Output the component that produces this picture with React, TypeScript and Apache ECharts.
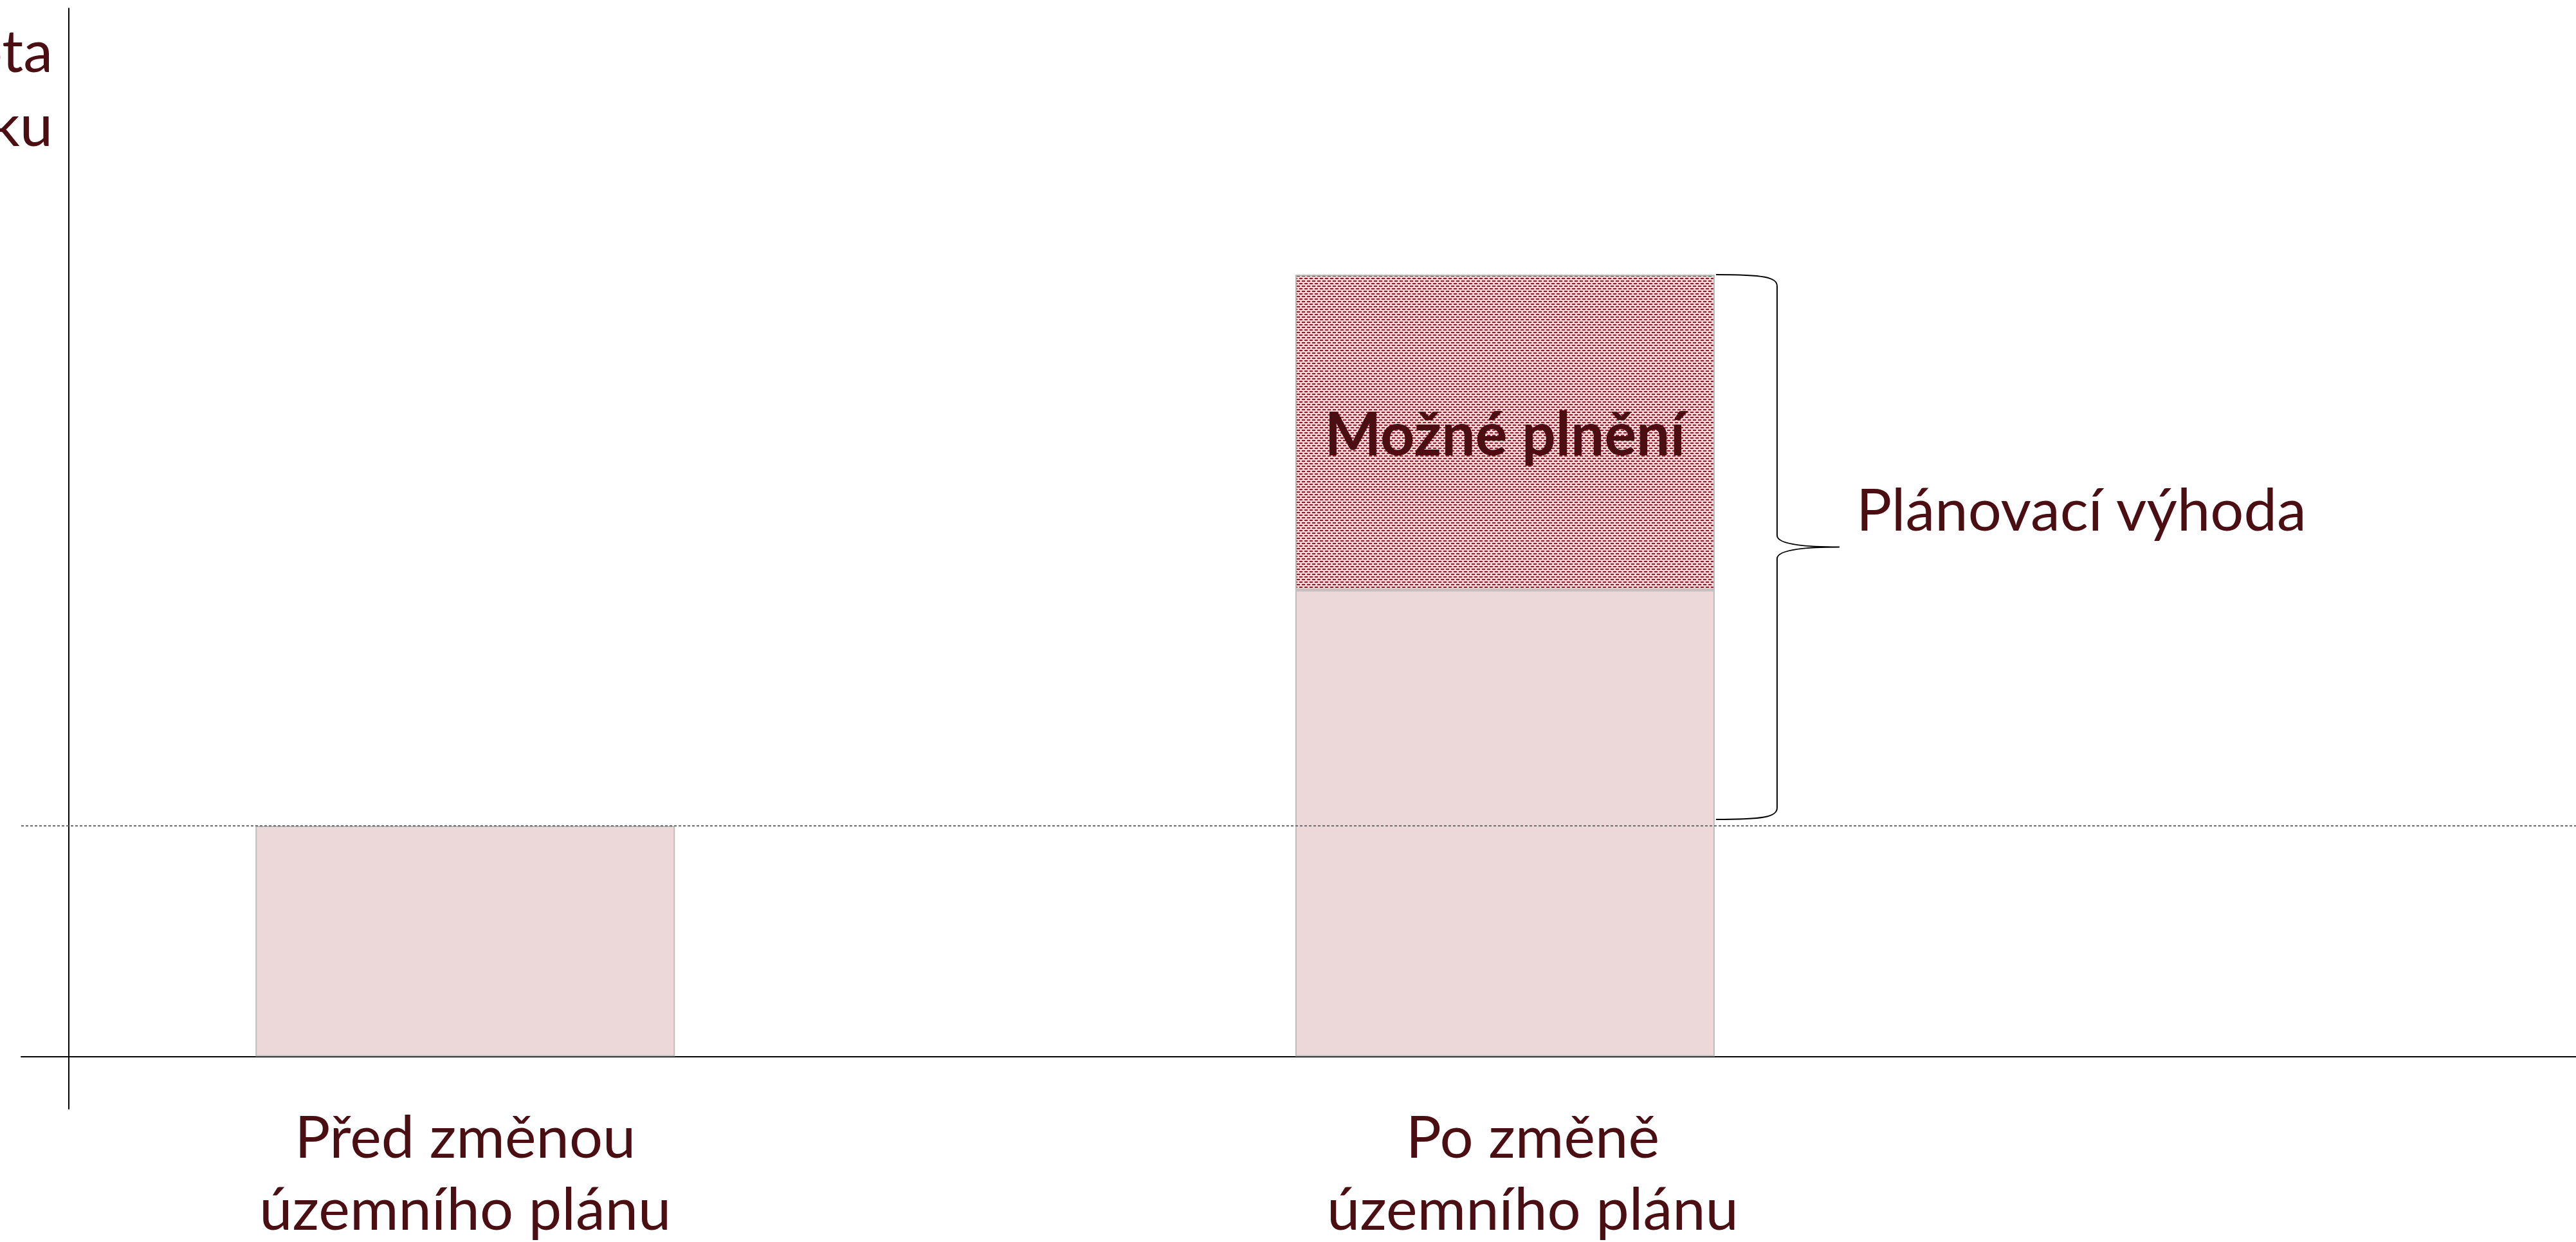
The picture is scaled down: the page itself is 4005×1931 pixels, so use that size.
import React, { useEffect, useRef } from "react";
import * as echarts from "echarts";

// ---- data ----
const CATEGORIES = ["Před změnou\núzemního plánu", "Po změně\núzemního plánu"];
const CAT_POS = [0, 1];
const BASE_VALUES = [22, 44.5];
const POTENTIAL_VALUES: (number | null)[] = [null, 30.1];
const Y_AXIS_NAME = "Hodnota\npozemku";
const BAR_LABEL = "Možné plnění";
const BRACE_LABEL = "Plánovací výhoda";
const Y_MIN = -5;
const Y_MAX = 100;
const X_MIN = -0.427;
const X_MAX = 2.03;

// ---- styles ----
const TEXT = "#4a0e13";
const FONT = "Lato, 'Noto Sans', sans-serif";
const BAR_FILL = "#ecd8d9";
const BAR_BORDER = "#bdbdbd";
const HATCH = "#8e1b2b";
const BAR_WIDTH = 652;
const LABEL_LEFT_PAD = [0, 86]; // visual nudge of each category label (px of left padding)

export default function App() {
  const ref = useRef<HTMLDivElement>(null);
  useEffect(() => {
    if (!ref.current) return;
    const chart = echarts.init(ref.current, undefined, { renderer: "svg" });
    // value first, position second (encode maps them), so stacking applies to the value dimension
    const baseData = CAT_POS.map((x, i) => [BASE_VALUES[i], x]);
    const potData = CAT_POS.map((x, i) => [POTENTIAL_VALUES[i] == null ? "-" : POTENTIAL_VALUES[i], x]);
    const braceData = [[CAT_POS[1], BASE_VALUES[0], BASE_VALUES[1] + (POTENTIAL_VALUES[1] as number)]];

    const labelStyle = { color: TEXT, fontFamily: FONT, fontSize: 92, lineHeight: 112 };
    const rich: Record<string, any> = {};
    CAT_POS.forEach((_, i) => {
      rich["c" + i] = { ...labelStyle, padding: [0, 0, 0, LABEL_LEFT_PAD[i]] };
    });

    chart.setOption({
      animation: false,
      backgroundColor: "#ffffff",
      grid: {
        left: 33,
        right: 0,
        top: 13,
        bottom: 207,
        containLabel: false,
        outerBoundsMode: "none",
      },
      xAxis: {
        type: "value",
        min: X_MIN,
        max: X_MAX,
        splitLine: { show: false },
        axisTick: { show: false },
        axisLine: { show: true, onZero: true, lineStyle: { color: "#000", width: 2 } },
        axisLabel: {
          customValues: CAT_POS,
          formatter: (v: number) => {
            const i = CAT_POS.indexOf(Math.round(v));
            if (i < 0) return "";
            return CATEGORIES[i]
              .split("\n")
              .map((line) => `{c${i}|${line}}`)
              .join("\n");
          },
          rich,
          ...labelStyle,
          margin: -16,
          align: "center",
        },
      },
      yAxis: {
        type: "value",
        min: Y_MIN,
        max: Y_MAX,
        offset: -74,
        splitLine: { show: false },
        axisTick: { show: false },
        axisLabel: { show: false },
        axisLine: { show: true, onZero: false, lineStyle: { color: "#000", width: 2 } },
        name: Y_AXIS_NAME,
        nameLocation: "end",
        nameGap: -6,
        nameTextStyle: {
          color: TEXT,
          fontFamily: FONT,
          fontSize: 92,
          lineHeight: 115,
          align: "right",
          verticalAlign: "top",
          padding: [0, 25, 0, 0],
        },
      },
      series: [
        {
          type: "bar",
          name: "base",
          stack: "total",
          barWidth: BAR_WIDTH,
          encode: { x: 1, y: 0 },
          data: baseData,
          itemStyle: { color: BAR_FILL, borderColor: BAR_BORDER, borderWidth: 2 },
          markLine: {
            silent: true,
            symbol: "none",
            label: { show: false },
            lineStyle: { type: [4, 3], color: "#6e6e6e", width: 2 },
            data: [{ yAxis: BASE_VALUES[0] }],
          },
        },
        {
          type: "bar",
          name: "potential",
          stack: "total",
          barWidth: BAR_WIDTH,
          encode: { x: 1, y: 0 },
          data: potData,
          itemStyle: {
            color: BAR_FILL,
            borderColor: BAR_BORDER,
            borderWidth: 2,
            decal: {
              symbol: "rect",
              symbolSize: 1,
              color: HATCH,
              backgroundColor: null,
              dashArrayX: [[5, 3], [1, 3, 4, 0]],
              dashArrayY: [2, 2],
            },
          },
          label: {
            show: true,
            position: "inside",
            formatter: BAR_LABEL,
            color: TEXT,
            fontFamily: FONT,
            fontWeight: "bold",
            fontSize: 93,
          },
        },
        {
          type: "custom",
          name: "brace",
          coordinateSystem: "cartesian2d",
          encode: { x: 0, y: [1, 2] },
          data: braceData,
          z: 5,
          renderItem: (params: any, api: any) => {
            const x = api.value(0);
            const lo = api.value(1);
            const hi = api.value(2);
            const pTop = api.coord([x, hi]);
            const pBot = api.coord([x, lo]);
            const x0 = pTop[0] + BAR_WIDTH / 2 + 2;
            const yT = pTop[1];
            const yB = pBot[1] - 10;
            const ym = (yT + yB) / 2;
            const xs = x0 + 95;
            const xt = x0 + 192;
            const d =
              `M ${x0} ${yT} C ${x0 + 75} ${yT} ${xs} ${yT + 4} ${xs} ${yT + 18} ` +
              `L ${xs} ${ym - 18} C ${xs} ${ym - 4} ${xs + 45} ${ym} ${xt} ${ym} ` +
              `M ${xt} ${ym} C ${xs + 45} ${ym} ${xs} ${ym + 4} ${xs} ${ym + 18} ` +
              `L ${xs} ${yB - 18} C ${xs} ${yB - 4} ${x0 + 75} ${yB} ${x0} ${yB}`;
            return {
              type: "group",
              children: [
                {
                  type: "path",
                  shape: { pathData: d },
                  style: { fill: "none", stroke: "#000", lineWidth: 2 },
                },
                {
                  type: "text",
                  x: xt + 26,
                  y: ym - 15,
                  style: {
                    text: BRACE_LABEL,
                    fill: TEXT,
                    fontFamily: FONT,
                    fontSize: 92,
                    align: "left",
                    verticalAlign: "bottom",
                  },
                },
              ],
            };
          },
        },
      ],
    });
    return () => chart.dispose();
  }, []);
  return (
    <div
      ref={ref}
      style={{ position: "absolute", left: 0, top: 0, width: "4005px", height: "1931px" }}
    />
  );
}
